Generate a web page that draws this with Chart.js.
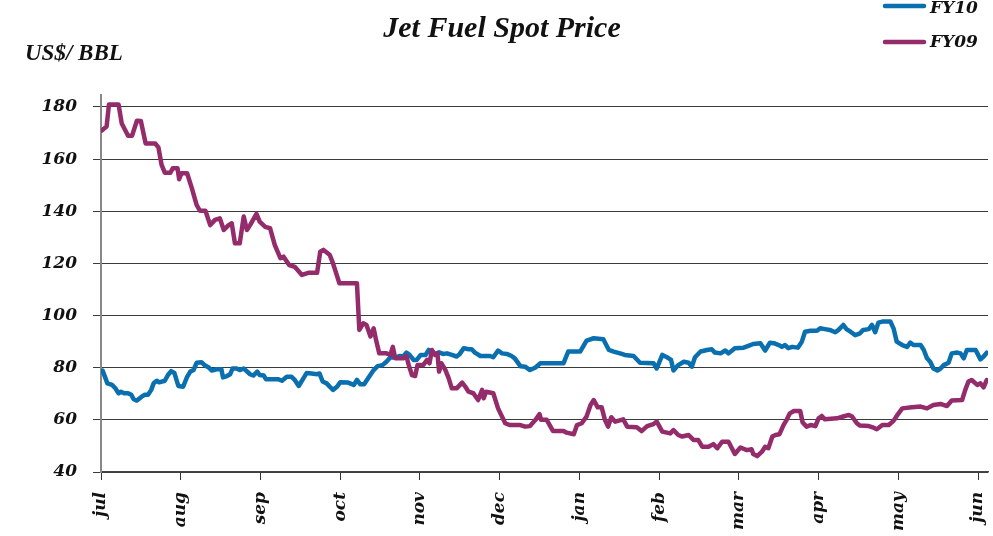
<!DOCTYPE html>
<html>
<head>
<meta charset="utf-8">
<title>Jet Fuel Spot Price</title>
<script src="https://cdn.jsdelivr.net/npm/chart.js@4/dist/chart.umd.min.js"></script>
<style>
  html, body { margin: 0; padding: 0; background: #fff; }
</style>
</head>
<body>
<canvas id="fuel" width="993" height="536"></canvas>
<script>
// month labels, one tick per month (x = months since start of jul)
const months = ['jul', 'aug', 'sep', 'oct', 'nov', 'dec', 'jan', 'feb', 'mar', 'apr', 'may', 'jun']
const yTicks = [40, 60, 80, 100, 120, 140, 160, 180]

// FY10 series, x in months since jul, y in US$/bbl
const fy10X = [0.02, 0.05, 0.08, 0.14, 0.18, 0.22, 0.25, 0.29, 0.34, 0.38, 0.41, 0.45, 0.51, 0.55, 0.59, 0.63, 0.66, 0.70, 0.73, 0.80,
  0.84, 0.88, 0.92, 0.97, 1.03, 1.08, 1.12, 1.16, 1.20, 1.26, 1.30, 1.35, 1.39, 1.45, 1.51, 1.53, 1.58, 1.62, 1.65, 1.70,
  1.74, 1.79, 1.82, 1.87, 1.91, 1.96, 1.99, 2.04, 2.07, 2.22, 2.27, 2.33, 2.39, 2.43, 2.48, 2.54, 2.58, 2.64, 2.71, 2.74,
  2.78, 2.83, 2.87, 2.91, 2.96, 3.00, 3.10, 3.17, 3.21, 3.25, 3.30, 3.35, 3.42, 3.47, 3.53, 3.58, 3.63, 3.69, 3.75, 3.79,
  3.83, 3.87, 3.92, 3.96, 4.01, 4.07, 4.11, 4.15, 4.19, 4.24, 4.29, 4.34, 4.40, 4.46, 4.50, 4.55, 4.61, 4.65, 4.69, 4.76,
  4.88, 4.92, 4.98, 5.03, 5.09, 5.15, 5.19, 5.26, 5.32, 5.38, 5.45, 5.51, 5.80, 5.86, 6.01, 6.09, 6.18, 6.30, 6.37, 6.43,
  6.51, 6.57, 6.68, 6.76, 6.93, 6.97, 7.04, 7.10, 7.15, 7.18, 7.24, 7.31, 7.37, 7.41, 7.45, 7.52, 7.60, 7.66, 7.70, 7.77,
  7.83, 7.87, 7.95, 8.06, 8.12, 8.18, 8.27, 8.33, 8.39, 8.44, 8.50, 8.54, 8.58, 8.62, 8.67, 8.74, 8.79, 8.83, 8.90, 8.98,
  9.02, 9.08, 9.14, 9.21, 9.25, 9.31, 9.35, 9.40, 9.46, 9.52, 9.56, 9.63, 9.67, 9.71, 9.75, 9.80, 9.90, 9.94, 9.98, 10.05,
  10.11, 10.15, 10.19, 10.28, 10.32, 10.36, 10.40, 10.44, 10.49, 10.53, 10.57, 10.63, 10.67, 10.74, 10.78, 10.82, 10.86, 10.97, 11.03, 11.07,
  11.11]
const fy10Y = [78.9, 76.5, 74.0, 73.4, 72.1, 70.2, 70.8, 70.2, 70.2, 69.6, 67.9, 67.4, 68.9, 69.6, 69.6, 71.5, 74.0, 75.0, 74.4, 75.0,
  77.2, 78.7, 78.0, 73.0, 72.7, 76.5, 78.5, 79.1, 81.9, 82.1, 81.0, 80.1, 78.9, 79.4, 79.4, 76.3, 76.8, 77.5, 79.7, 79.7,
  79.1, 79.7, 78.9, 77.5, 77.0, 78.5, 77.2, 77.0, 75.6, 75.6, 75.0, 76.5, 76.5, 75.3, 73.0, 76.0, 78.0, 77.8, 77.5, 77.8,
  74.7, 74.0, 72.7, 71.5, 72.7, 74.4, 74.3, 73.4, 75.3, 73.7, 73.7, 76.0, 79.1, 80.6, 81.0, 82.3, 84.0, 83.9, 84.5, 84.3,
  85.8, 84.9, 83.0, 83.0, 84.9, 84.9, 86.8, 85.8, 85.2, 85.9, 85.3, 85.5, 84.9, 84.3, 85.3, 87.5, 87.1, 87.1, 85.8, 84.5,
  84.5, 84.0, 86.6, 85.5, 85.3, 84.5, 83.6, 80.6, 80.4, 79.1, 80.1, 81.7, 81.7, 86.2, 86.2, 90.4, 91.3, 90.9, 86.8, 86.2,
  85.5, 84.9, 84.5, 81.9, 81.7, 79.7, 84.9, 84.0, 83.0, 78.9, 81.0, 82.3, 81.9, 80.4, 84.0, 86.2, 86.8, 87.1, 85.8, 85.5,
  86.6, 85.5, 87.5, 87.7, 88.4, 89.1, 89.4, 86.6, 89.6, 89.4, 88.7, 88.0, 88.7, 87.5, 88.0, 87.7, 90.0, 93.8, 94.2, 94.2,
  95.1, 94.8, 94.5, 93.6, 94.5, 96.4, 94.8, 93.8, 92.5, 93.2, 94.5, 94.8, 96.4, 93.6, 97.3, 97.7, 97.7, 95.1, 90.0, 88.7,
  88.0, 89.6, 88.7, 88.7, 86.8, 83.6, 82.3, 79.7, 78.9, 79.7, 81.0, 81.9, 85.5, 85.8, 85.5, 83.6, 86.8, 86.8, 83.2, 84.3,
  85.8]

// FY09 series
const fy09X = [0.01, 0.07, 0.10, 0.22, 0.26, 0.34, 0.39, 0.45, 0.50, 0.56, 0.64, 0.68, 0.72, 0.76, 0.80, 0.87, 0.90, 0.96, 0.98, 1.01,
  1.08, 1.14, 1.20, 1.24, 1.31, 1.37, 1.43, 1.49, 1.54, 1.60, 1.64, 1.68, 1.74, 1.79, 1.83, 1.87, 1.95, 1.99, 2.06, 2.12,
  2.18, 2.25, 2.29, 2.36, 2.43, 2.52, 2.60, 2.71, 2.75, 2.79, 2.87, 2.91, 2.99, 3.04, 3.21, 3.24, 3.29, 3.33, 3.38, 3.42,
  3.45, 3.49, 3.58, 3.63, 3.66, 3.69, 3.79, 3.83, 3.86, 3.90, 3.94, 3.97, 4.04, 4.09, 4.12, 4.15, 4.19, 4.22, 4.24, 4.27,
  4.32, 4.36, 4.40, 4.46, 4.53, 4.57, 4.61, 4.67, 4.73, 4.78, 4.80, 4.83, 4.92, 4.98, 5.07, 5.13, 5.26, 5.32, 5.38, 5.45,
  5.50, 5.52, 5.59, 5.67, 5.80, 5.84, 5.93, 5.97, 6.03, 6.09, 6.14, 6.18, 6.23, 6.28, 6.32, 6.36, 6.40, 6.45, 6.55, 6.60,
  6.72, 6.78, 6.85, 6.93, 6.97, 7.04, 7.14, 7.18, 7.24, 7.29, 7.37, 7.43, 7.49, 7.54, 7.62, 7.68, 7.73, 7.79, 7.87, 7.95,
  8.02, 8.10, 8.16, 8.18, 8.23, 8.29, 8.33, 8.37, 8.42, 8.46, 8.51, 8.56, 8.60, 8.64, 8.69, 8.77, 8.80, 8.85, 8.90, 8.96,
  9.00, 9.04, 9.08, 9.23, 9.31, 9.38, 9.42, 9.48, 9.52, 9.63, 9.69, 9.73, 9.80, 9.88, 9.94, 9.98, 10.05, 10.17, 10.28, 10.36,
  10.44, 10.53, 10.61, 10.67, 10.80, 10.84, 10.88, 10.92, 10.99, 11.03, 11.07, 11.11]
const fy09Y = [171.0, 172.5, 181.0, 181.0, 173.7, 169.0, 169.0, 174.7, 174.6, 166.0, 166.0, 166.0, 164.5, 157.8, 154.8, 154.8, 156.5, 156.5, 152.3, 154.6,
  154.6, 148.8, 142.4, 140.2, 140.2, 134.7, 136.7, 137.3, 132.8, 134.7, 135.4, 127.7, 127.7, 138.0, 132.8, 134.7, 139.0, 136.0, 134.0, 133.5,
  127.0, 122.0, 122.6, 119.4, 118.7, 115.6, 116.4, 116.4, 124.5, 125.2, 123.2, 120.0, 112.4, 112.4, 112.4, 94.5, 97.0, 96.4, 92.0, 95.1,
  90.6, 85.5, 85.5, 84.9, 88.0, 83.6, 83.6, 84.5, 81.0, 77.2, 76.8, 81.0, 81.0, 83.0, 81.7, 86.8, 84.9, 85.5, 78.5, 81.7,
  79.1, 76.0, 72.1, 72.1, 74.3, 72.7, 70.8, 70.2, 67.6, 71.5, 68.3, 70.8, 70.2, 64.4, 58.7, 58.0, 58.0, 57.4, 57.6, 60.0,
  62.2, 60.0, 60.0, 55.7, 55.7, 55.1, 54.5, 58.0, 58.7, 61.3, 65.7, 67.6, 64.8, 64.8, 60.0, 57.4, 61.0, 59.3, 60.2, 57.4,
  57.2, 55.7, 57.6, 58.4, 59.3, 55.5, 54.8, 56.1, 54.2, 53.6, 54.2, 52.3, 52.3, 49.7, 49.7, 50.7, 49.1, 51.6, 51.6, 46.9,
  49.4, 48.4, 48.7, 46.9, 46.1, 47.8, 49.7, 49.1, 53.6, 54.2, 54.5, 58.0, 60.0, 62.5, 63.4, 63.4, 59.0, 57.4, 58.0, 57.6,
  60.6, 61.5, 60.2, 60.6, 61.3, 61.9, 61.3, 58.7, 57.8, 57.6, 57.0, 56.4, 58.0, 58.0, 59.6, 61.5, 64.4, 64.8, 65.1, 64.4,
  65.7, 66.1, 65.3, 67.4, 67.6, 71.5, 74.7, 75.3, 73.4, 74.0, 72.5, 75.3]

const blue = '#0A6FAE'
const purple = '#942B6A'
const serif = "'DejaVu Serif', serif"
const titleSerif = "'Liberation Serif', serif"

const toPoints = (xs, ys) => xs.map((x, i) => ({ x: x, y: ys[i] }))

// unit label + line legend in the top corners
const extras = {
  id: 'extras',
  afterDraw(chart) {
    const c = chart.ctx
    c.save()
    c.fillStyle = '#111'
    c.font = 'italic bold 23px ' + titleSerif
    c.textBaseline = 'alphabetic'
    c.textAlign = 'left'
    c.fillText('US$/ BBL', 25, 60)

    const rows = [{ i: 0, lineY: 6, textY: 9 }, { i: 1, lineY: 42, textY: 43 }]
    rows.forEach(r => {
      const ds = chart.data.datasets[r.i]
      c.strokeStyle = ds.borderColor
      c.lineWidth = 4.5
      c.lineCap = 'round'
      c.beginPath()
      c.moveTo(885, r.lineY)
      c.lineTo(924, r.lineY)
      c.stroke()
      c.font = 'italic bold 17px ' + serif
      c.textBaseline = 'middle'
      c.fillText(ds.label, 930, r.textY)
    })
    c.restore()
  }
}

const ctx = document.getElementById('fuel').getContext('2d')

let fuelChart = new Chart(ctx, {
  type: 'line',
  data: {
    datasets: [{
      label: 'FY10',
      data: toPoints(fy10X, fy10Y),
      borderColor: blue,
      backgroundColor: blue,
      borderWidth: 4.5,
      order: 1
    }, {
      label: 'FY09',
      data: toPoints(fy09X, fy09Y),
      borderColor: purple,
      backgroundColor: purple,
      borderWidth: 4.5,
      order: 0
    }]
  },
  options: {
    responsive: false,
    animation: false,
    layout: { padding: { left: 16, right: 5, top: 0, bottom: 0 } },
    elements: {
      point: { radius: 0 },
      line: { tension: 0, borderJoinStyle: 'round', borderCapStyle: 'round' }
    },
    plugins: {
      legend: { display: false },
      tooltip: { enabled: false },
      title: {
        display: true,
        text: 'Jet Fuel Spot Price',
        color: '#111',
        font: { family: titleSerif, size: 30, style: 'italic', weight: 'bold', lineHeight: 1.2 },
        padding: { top: 11, bottom: 48 }
      }
    },
    scales: {
      x: {
        type: 'linear',
        min: 0,
        max: 11.125,
        afterFit: s => { s.height = 64; s.paddingLeft = 0; s.paddingRight = 0 },
        border: { color: '#444', width: 1.5 },
        grid: { drawOnChartArea: false, tickLength: 8, color: '#333' },
        ticks: {
          stepSize: 1,
          includeBounds: false,
          autoSkip: false,
          minRotation: 90,
          maxRotation: 90,
          padding: 12,
          color: '#111',
          font: { family: serif, size: 17, style: 'italic', weight: 'bold' },
          callback: v => months[v]
        }
      },
      y: {
        min: 40,
        max: 184.6,
        afterFit: s => { s.width = 85; s.paddingTop = 0; s.paddingBottom = 0 },
        afterBuildTicks: s => { s.ticks = yTicks.map(v => ({ value: v })) },
        border: { color: '#888', width: 2 },
        grid: { color: '#3a3a3a', lineWidth: 1, tickLength: 8 },
        ticks: {
          padding: 16,
          color: '#111',
          font: { family: serif, size: 17, style: 'italic', weight: 'bold' }
        }
      }
    }
  },
  plugins: [extras]
})
</script>
</body>
</html>
